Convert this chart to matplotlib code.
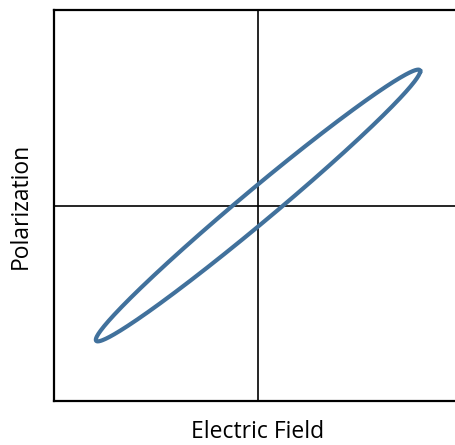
import matplotlib.pyplot as plt
import numpy as np

# loop parameters (normalised units, axes run -1..1)
field_max = 0.795       # field at the loop tips
pol_max = 0.695         # polarization at the loop tips
remanent_pol = 0.108    # polarization where the loop crosses E = 0

fig = plt.figure(figsize=(4.55, 4.45), dpi=100)
ax = fig.add_axes([54 / 455, 44 / 445, 408 / 455, 391 / 445])

# lossy dielectric: polarization lags the field by a small phase
lag = np.arcsin(remanent_pol / pol_max)
t = np.linspace(0, 2 * np.pi, 400)
E = field_max * np.cos(t)
P = pol_max * np.cos(t - lag)

ax.axhline(0, color='black', lw=1.2, zorder=1)
ax.axvline(0, color='black', lw=1.2, zorder=1)
ax.plot(E, P, color='#41719c', lw=3.0, zorder=2)

ax.set_xlim(-1, 1)
ax.set_ylim(-1, 1)
ax.set_xticks([])
ax.set_yticks([])
for side in ['left', 'top', 'bottom', 'right']:
	ax.spines[side].set_linewidth(1.6)

ax.set_xlabel('Electric Field', fontsize=16.5, family='Open Sans', labelpad=14)
ax.set_ylabel('Polarization', fontsize=16.5, family='Open Sans', labelpad=15)

plt.savefig('out.png', dpi=100)
